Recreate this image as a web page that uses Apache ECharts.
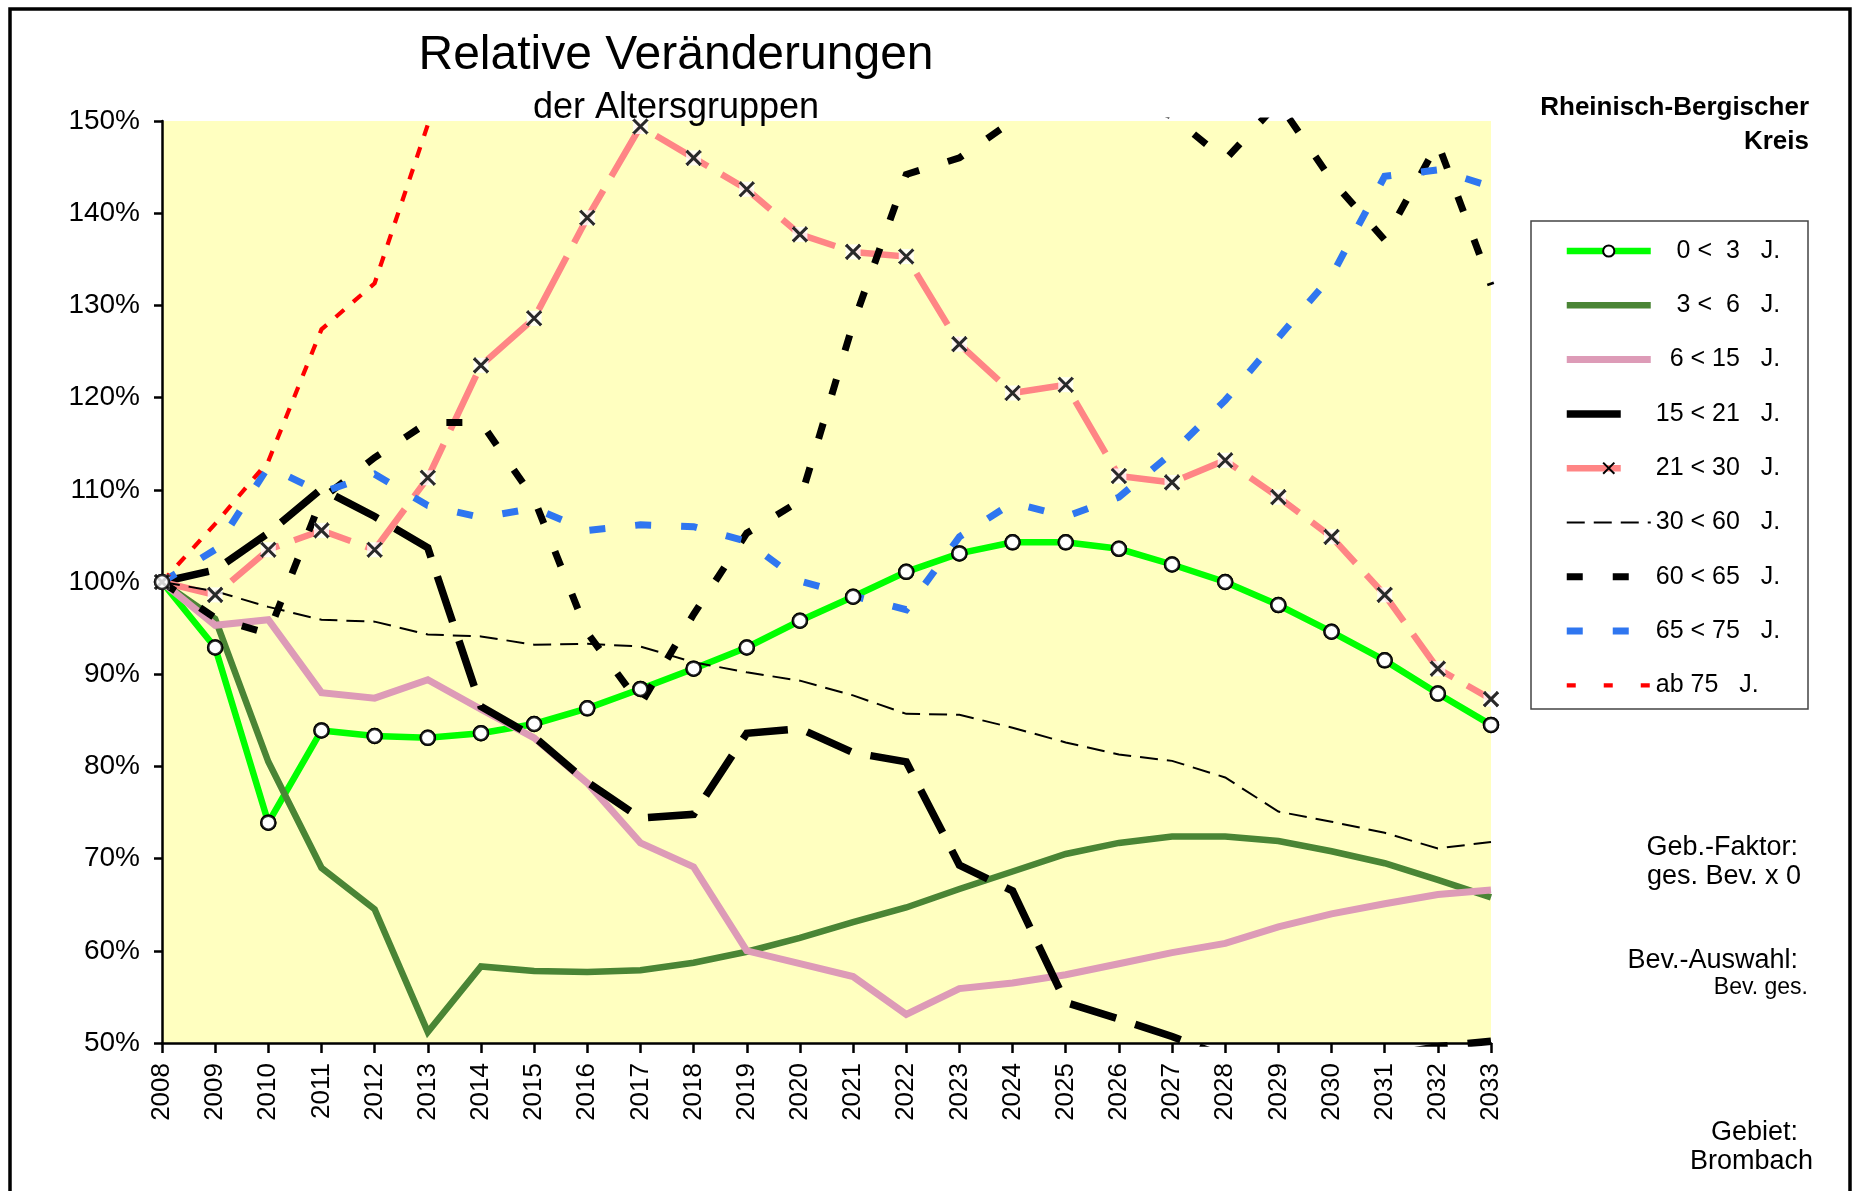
<!DOCTYPE html>
<html>
<head>
<meta charset="utf-8">
<script src="https://cdn.jsdelivr.net/npm/echarts@6/dist/echarts.min.js"></script>
<style>
html,body{margin:0;padding:0;background:#fff;}
#chart{width:1854px;height:1191px;}
</style>
</head>
<body>
<div id="chart"></div>
<script>
// ---- data ----
const years = ['2008','2009','2010','2011','2012','2013','2014','2015','2016','2017','2018','2019','2020','2021','2022','2023','2024','2025','2026','2027','2028','2029','2030','2031','2032','2033'];
const yTicks = [50, 60, 70, 80, 90, 100, 110, 120, 130, 140, 150];

const names = ['0 < 3 J.', '3 < 6 J.', '6 < 15 J.', '15 < 21 J.', '21 < 30 J.', '30 < 60 J.', '60 < 65 J.', '65 < 75 J.', 'ab 75 J.'];
const legendLabels = ['   0 <  3   J.', '   3 <  6   J.', '  6 < 15   J.', '15 < 21   J.', '21 < 30   J.', '30 < 60   J.', '60 < 65   J.', '65 < 75   J.', 'ab 75   J.'];

const v0_3   = [100, 92.9, 73.9, 83.9, 83.3, 83.1, 83.6, 84.6, 86.3, 88.4, 90.6, 92.9, 95.8, 98.4, 101.1, 103.1, 104.3, 104.3, 103.6, 101.9, 100.0, 97.5, 94.6, 91.5, 87.9, 84.5];
const v3_6   = [100, 96.0, 80.5, 69.0, 64.5, 51.2, 58.3, 57.8, 57.7, 57.9, 58.7, 59.9, 61.4, 63.1, 64.7, 66.7, 68.6, 70.5, 71.7, 72.4, 72.4, 71.9, 70.8, 69.5, 67.7, 65.8];
const v6_15  = [100, 95.3, 95.9, 88.0, 87.4, 89.4, 86.2, 83.1, 78.2, 71.7, 69.1, 60.0, 58.6, 57.2, 53.1, 55.9, 56.5, 57.4, 58.6, 59.8, 60.8, 62.6, 64.0, 65.1, 66.1, 66.6];
const v15_21 = [100, 101.3, 105.3, 110.1, 107.1, 103.7, 86.5, 83.2, 78.3, 74.4, 74.8, 83.6, 84.1, 81.5, 80.5, 69.3, 66.5, 54.4, 52.6, 50.7, 48.5, 47.8, 47.8, 48.6, 49.6, 50.2];
const v21_30 = [100, 98.6, 103.5, 105.6, 103.5, 111.3, 123.5, 128.6, 139.5, 149.4, 146.0, 142.6, 137.7, 135.8, 135.3, 125.8, 120.5, 121.4, 111.5, 110.8, 113.2, 109.2, 104.9, 98.6, 90.6, 87.3];
const v30_60 = [100, 99.0, 97.3, 95.9, 95.7, 94.3, 94.1, 93.2, 93.3, 93.0, 91.3, 90.2, 89.3, 87.7, 85.7, 85.6, 84.2, 82.6, 81.3, 80.6, 78.8, 75.1, 74.0, 72.8, 71.1, 71.8];
const v60_65 = [100, 96.1, 94.4, 109.0, 113.5, 117.3, 117.3, 109.0, 94.5, 86.7, 96.5, 105.3, 108.8, 128.0, 144.2, 146.0, 150.0, 153.0, 153.0, 150.5, 145.8, 152.0, 143.6, 137.1, 147.6, 132.2];
const v65_75 = [100, 103.5, 112.5, 109.7, 111.7, 108.3, 107.0, 108.0, 105.6, 106.2, 106.0, 104.4, 100.1, 98.5, 97.0, 104.9, 108.6, 107.1, 109.2, 114.0, 119.7, 126.5, 133.2, 144.0, 144.7, 142.9];
const v75    = [100, 106.3, 113.1, 127.4, 132.4, 149.6, 165, null, null, null, null, null, null, null, null, null, null, null, null, null, null, null, null, null, null, null];

const FONT = 'Liberation Sans, Arial, Helvetica, sans-serif';
const xPath = 'path://M0,0L12,12M12,0L0,12';

const styles = [
  { color: '#00ff00', width: 6.5, dash: 'solid' },
  { color: '#4a8535', width: 6.5, dash: 'solid' },
  { color: '#dd9bb7', width: 7,   dash: 'solid' },
  { color: '#000000', width: 7.5, dash: [48, 20] },
  { color: '#ff8585', width: 6.5, dash: [60, 16] },
  { color: '#000000', width: 2,   dash: [18, 9] },
  { color: '#000000', width: 7,   dash: [16, 30] },
  { color: '#2f76f0', width: 7,   dash: [16, 30] },
  { color: '#ff0000', width: 4.2, dash: [11, 12] }
];
const legendDash = ['solid', 'solid', 'solid', [54, 30], [54, 30], [18, 9], [16, 30], [16, 30], [9, 28]];
const hasMarker = [true, false, false, false, true, false, false, false, false];
const seriesData = [v0_3, v3_6, v6_15, v15_21, v21_30, v30_60, v60_65, v65_75, v75];

const series = names.map(function (n, i) {
  const s = {
    name: n,
    type: 'line',
    data: seriesData[i],
    symbol: 'none',
    showSymbol: false,
    clip: true,
    connectNulls: false,
    lineStyle: { color: styles[i].color, width: styles[i].width, type: styles[i].dash, cap: 'butt', join: 'miter' },
    itemStyle: { color: styles[i].color },
    emphasis: { disabled: true },
    z: 2
  };
  if (i === 0) {
    s.symbol = 'circle'; s.showSymbol = true; s.symbolSize = 14;
    s.itemStyle = { color: '#ffffff', borderColor: '#000000', borderWidth: 2.5 };
  }
  if (i === 4) {
    s.symbol = xPath; s.showSymbol = true; s.symbolSize = 14;
    s.itemStyle = { color: '#ffffff', borderColor: '#000000', borderWidth: 3 };
  }
  return s;
});

// marker overlays drawn above all lines
series.push(
  { name: '_m21bg', type: 'scatter', data: v21_30, symbol: 'rect', symbolSize: 15,
    itemStyle: { color: '#ffffff' }, z: 5, silent: true, emphasis: { disabled: true } },
  { name: '_m21x', type: 'scatter', data: v21_30, symbol: xPath, symbolSize: 14,
    itemStyle: { color: 'rgba(0,0,0,0)', borderColor: '#000000', borderWidth: 3 }, z: 6, silent: true, emphasis: { disabled: true } },
  { name: '_m03', type: 'scatter', data: v0_3, symbol: 'circle', symbolSize: 14,
    itemStyle: { color: '#ffffff', borderColor: '#000000', borderWidth: 2.5 }, z: 6, silent: true, emphasis: { disabled: true } }
);

const legendData = names.map(function (n, i) {
  const d = {
    name: n,
    lineStyle: { width: styles[i].width, type: legendDash[i], color: styles[i].color }
  };
  if (!hasMarker[i]) d.itemStyle = { opacity: 0, color: 'rgba(0,0,0,0)', borderWidth: 0 };
  return d;
});

const chart = echarts.init(document.getElementById('chart'), null, { renderer: 'canvas' });

function txt(x, y, text, font, align) {
  return { type: 'text', silent: true, z: 100, x: x, y: y,
    style: { text: text, font: font, fill: '#000', textAlign: align || 'right', textVerticalAlign: 'middle' } };
}

chart.setOption({
  animation: false,
  backgroundColor: '#ffffff',
  textStyle: { fontFamily: FONT },
  grid: {
    left: 162, right: 363, top: 121, bottom: 148,
    show: true, backgroundColor: '#ffffc0', borderWidth: 0, containLabel: false
  },
  xAxis: {
    type: 'category',
    data: years,
    boundaryGap: false,
    axisLine: { show: true, lineStyle: { color: '#000', width: 2.5 } },
    axisTick: { show: true, interval: 0, length: 10, lineStyle: { color: '#000', width: 2.5 } },
    axisLabel: { interval: 0, rotate: 90, margin: 20, fontSize: 26, color: '#000', fontFamily: FONT },
    splitLine: { show: false }
  },
  yAxis: {
    type: 'value',
    min: yTicks[0], max: yTicks[yTicks.length - 1], interval: 10,
    axisLine: { show: true, lineStyle: { color: '#000', width: 2.5 } },
    axisTick: { show: true, length: 8, lineStyle: { color: '#000', width: 2.5 } },
    axisLabel: { margin: 22, fontSize: 28, color: '#000', fontFamily: FONT, formatter: '{value}%' },
    splitLine: { show: false }
  },
  legend: {
    data: legendData,
    orient: 'vertical',
    left: 1563,
    top: 238.5,
    padding: 0,
    itemGap: 29.3,
    itemWidth: 84,
    itemHeight: 14,
    selectedMode: false,
    formatter: function (n) { return legendLabels[names.indexOf(n)]; },
    textStyle: { fontSize: 25, lineHeight: 24, color: '#000', fontFamily: FONT }
  },
  graphic: [
    { type: 'rect', silent: true, z: 100,
      shape: { x: 10, y: 9, width: 1840, height: 1250 },
      style: { fill: 'none', stroke: '#000', lineWidth: 3.5 } },
    { type: 'rect', silent: true, z: 100,
      shape: { x: 1531, y: 221, width: 277, height: 488 },
      style: { fill: 'none', stroke: '#444', lineWidth: 1.5 } },
    txt(676, 56, 'Relative Veränderungen', '48px ' + FONT, 'center'),
    txt(676, 108, 'der Altersgruppen', '36px ' + FONT, 'center'),
    txt(1809, 108, 'Rheinisch-Bergischer', 'bold 26px ' + FONT),
    txt(1809, 142, 'Kreis', 'bold 26px ' + FONT),
    txt(1798, 848, 'Geb.-Faktor:', '27px ' + FONT),
    txt(1801, 877, 'ges. Bev. x 0', '27px ' + FONT),
    txt(1798, 961, 'Bev.-Auswahl:', '27px ' + FONT),
    txt(1808, 988, 'Bev. ges.', '23px ' + FONT),
    txt(1798, 1133, 'Gebiet:', '27px ' + FONT),
    txt(1813, 1162, 'Brombach', '27px ' + FONT)
  ],
  series: series
});
</script>
</body>
</html>
